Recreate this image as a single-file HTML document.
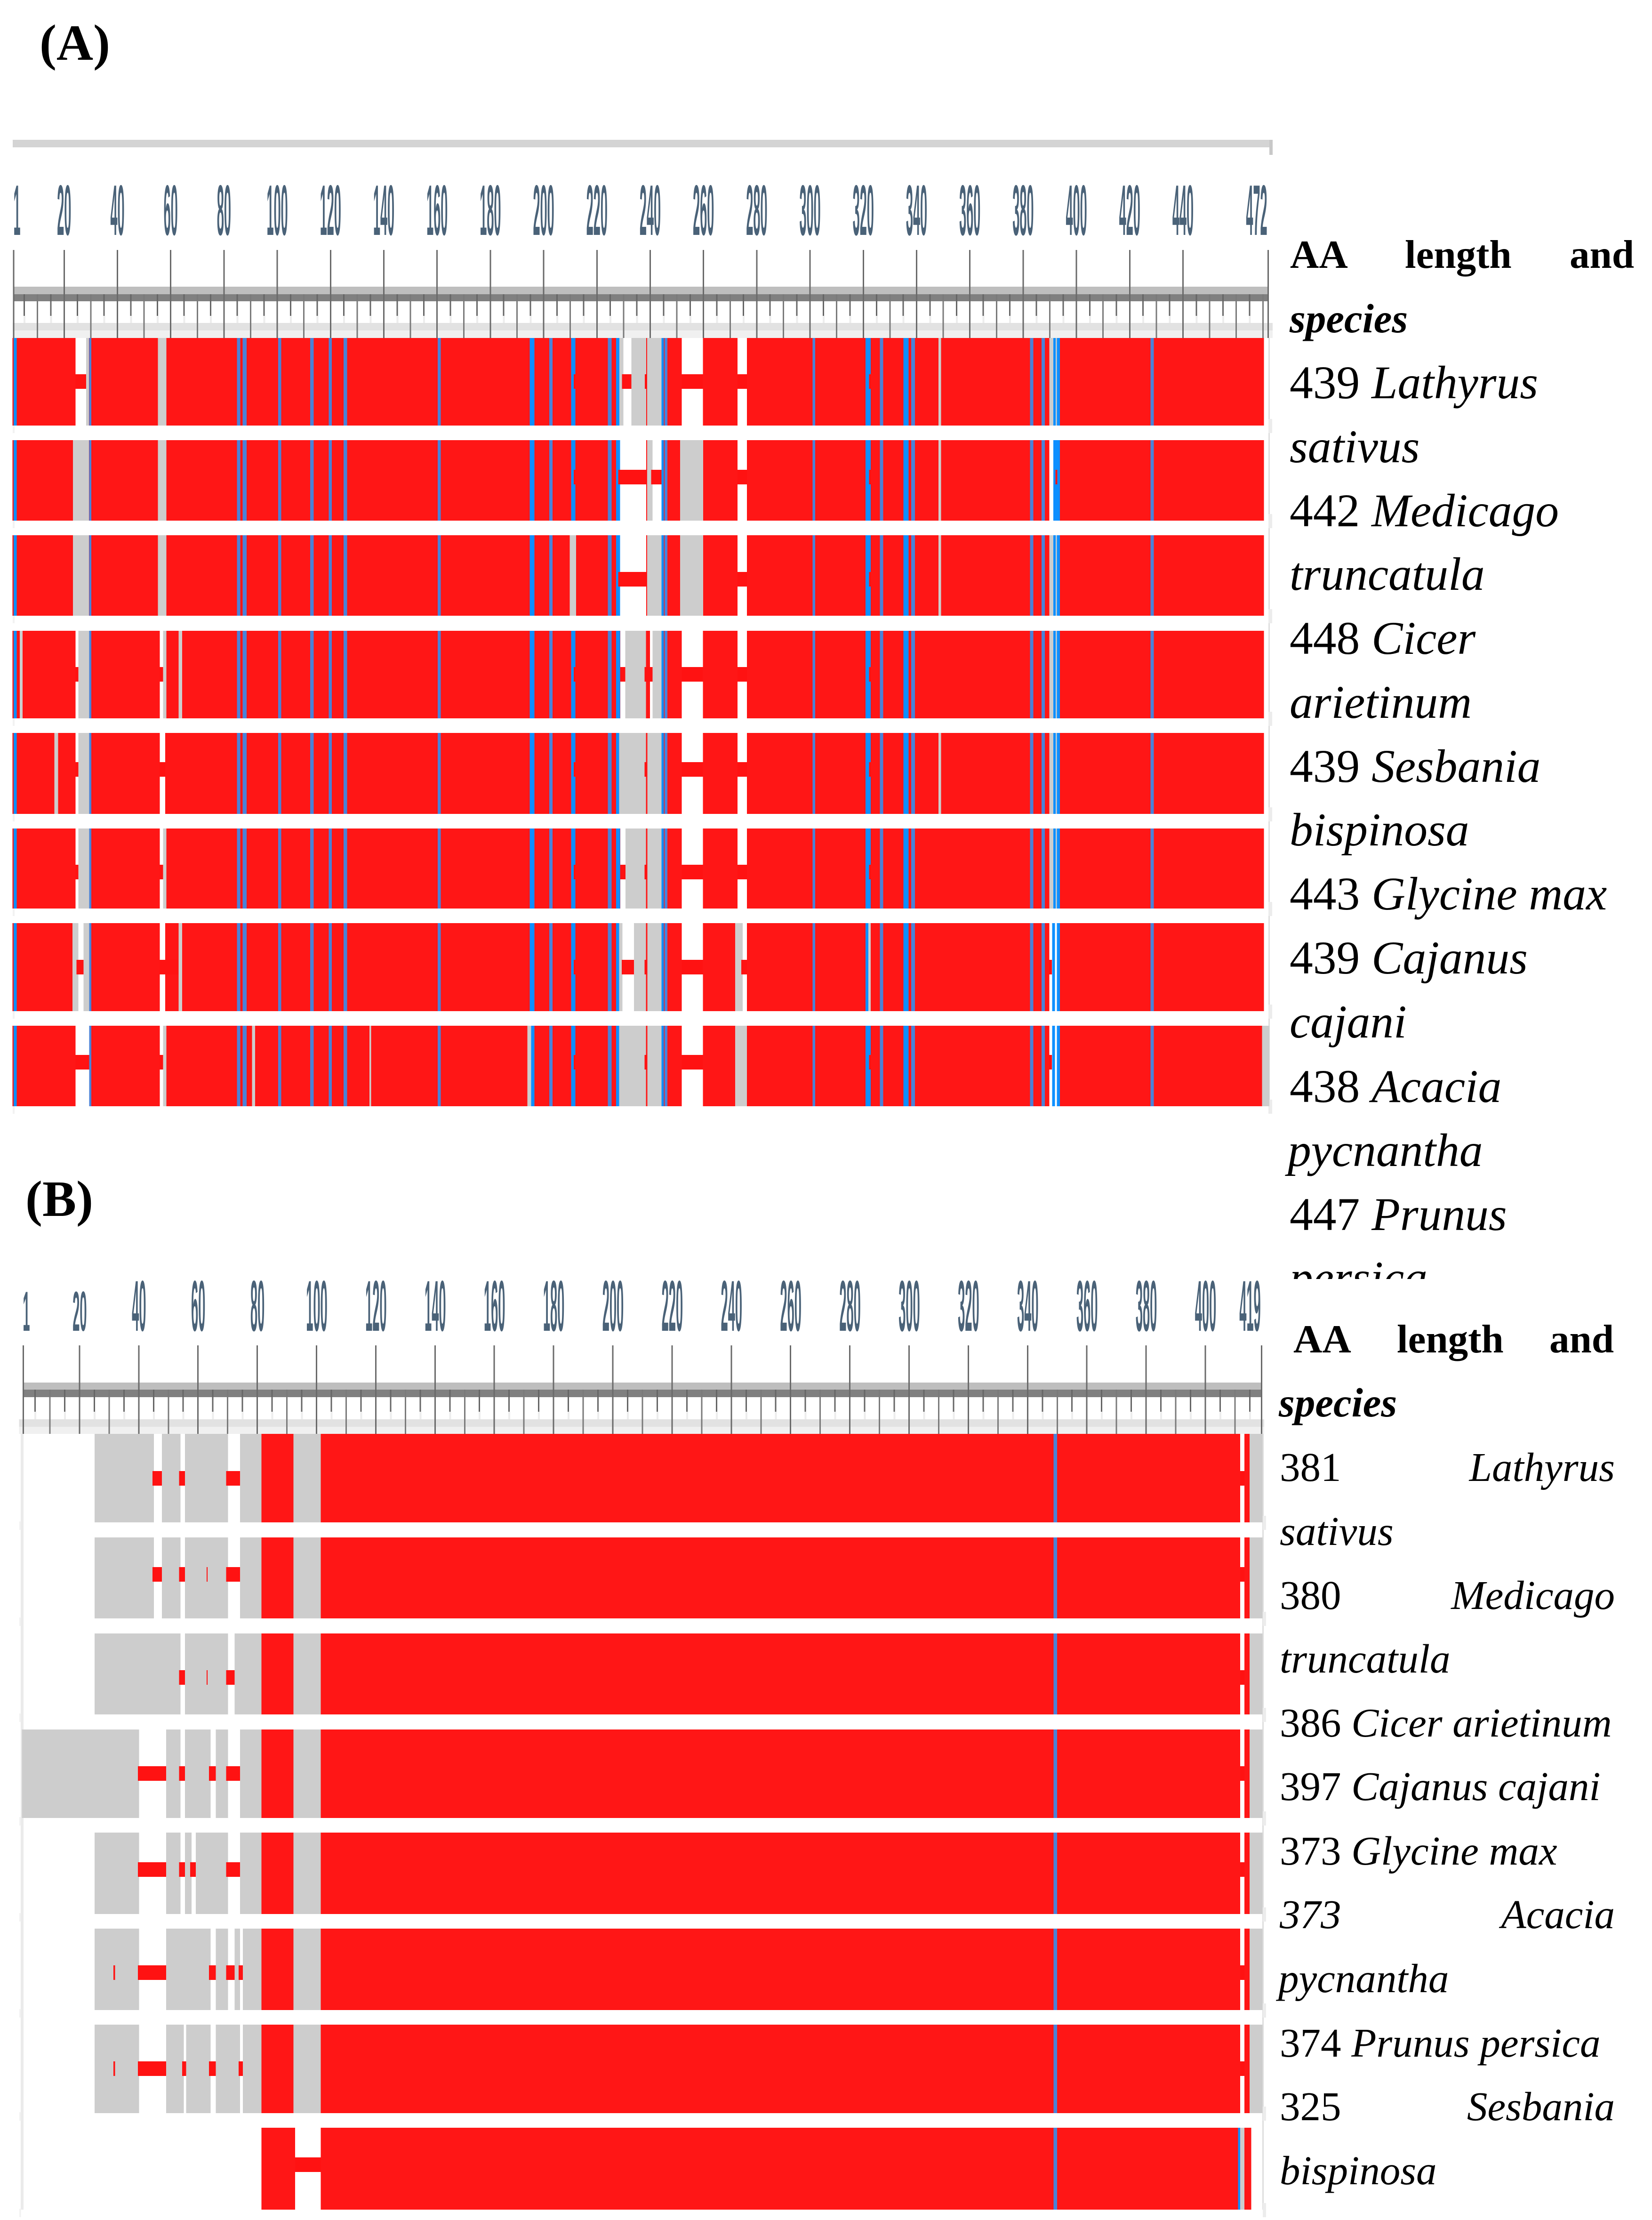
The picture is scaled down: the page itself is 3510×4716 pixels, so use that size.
<!DOCTYPE html>
<html lang="en">
<head>
<meta charset="utf-8">
<title>Protein alignment panels A and B</title>
<style>
html,body{margin:0;padding:0;background:#fff}
svg{display:block}
text{font-family:"Liberation Serif",serif;fill:#000}
.b{font-weight:bold;font-size:85px}
.bi{font-weight:bold;font-style:italic;font-size:87px}
.a{font-size:99.5px}
.s{font-size:87px}
i,.i{font-style:italic}
</style>
</head>
<body>
<svg id="fig" xmlns="http://www.w3.org/2000/svg" width="3510" height="4716" viewBox="0 0 3510 4716">
<defs><clipPath id="colA"><rect x="2700" y="500" width="810" height="2217"/></clipPath></defs>
<rect x="0" y="0" width="3510" height="4716" fill="#fff"/>
<g id="plotA"></g>
<g id="plotB"></g>

<text x="84" y="127" font-size="108" font-weight="bold">(A)</text>
<text x="54" y="2583" font-size="108" font-weight="bold">(B)</text>

<g clip-path="url(#colA)">
<text class="b" x="2741" y="569">AA</text>
<text class="b" x="2985" y="569">length</text>
<text class="b" x="3335" y="569">and</text>
<text class="bi" x="2740" y="706">species</text>
<text class="a" x="2740" y="846">439 <tspan class="i">Lathyrus</tspan></text>
<text class="a i" x="2740" y="982">sativus</text>
<text class="a" x="2740" y="1118">442 <tspan class="i">Medicago</tspan></text>
<text class="a i" x="2740" y="1253">truncatula</text>
<text class="a" x="2740" y="1389">448 <tspan class="i">Cicer</tspan></text>
<text class="a i" x="2740" y="1525">arietinum</text>
<text class="a" x="2740" y="1661">439 <tspan class="i">Sesbania</tspan></text>
<text class="a i" x="2740" y="1796">bispinosa</text>
<text class="a" x="2740" y="1932">443 <tspan class="i">Glycine max</tspan></text>
<text class="a" x="2740" y="2068">439 <tspan class="i">Cajanus</tspan></text>
<text class="a i" x="2740" y="2204">cajani</text>
<text class="a" x="2740" y="2341">438 <tspan class="i">Acacia</tspan></text>
<text class="a i" x="2736" y="2477">pycnantha</text>
<text class="a" x="2740" y="2613">447 <tspan class="i">Prunus</tspan></text>
<text class="a i" x="2740" y="2748">persica</text>
</g>

<g>
<text class="b" x="2748" y="2873">AA</text>
<text class="b" x="2968" y="2873">length</text>
<text class="b" x="3292" y="2873">and</text>
<text class="bi" x="2717" y="3009">species</text>
<text class="s" x="2719" y="3146">381</text>
<text class="s i" x="3431" y="3146" text-anchor="end">Lathyrus</text>
<text class="s i" x="2719" y="3282">sativus</text>
<text class="s" x="2719" y="3418">380</text>
<text class="s i" x="3431" y="3418" text-anchor="end">Medicago</text>
<text class="s i" x="2719" y="3553">truncatula</text>
<text class="s" x="2719" y="3689">386 <tspan class="i">Cicer arietinum</tspan></text>
<text class="s" x="2719" y="3824">397 <tspan class="i">Cajanus cajani</tspan></text>
<text class="s" x="2719" y="3961">373 <tspan class="i">Glycine max</tspan></text>
<text class="s i" x="2719" y="4096">373</text>
<text class="s i" x="3431" y="4096" text-anchor="end">Acacia</text>
<text class="s i" x="2716" y="4232">pycnantha</text>
<text class="s" x="2719" y="4369">374 <tspan class="i">Prunus persica</tspan></text>
<text class="s" x="2719" y="4504">325</text>
<text class="s i" x="3431" y="4504" text-anchor="end">Sesbania</text>
<text class="s i" x="2719" y="4640">bispinosa</text>
</g>
</svg>

<script>
/* ---------- Panel A: residue ranges per sequence ---------- */
const aTickLabels = [1,20,40,60,80,100,120,140,160,180,200,220,240,260,280,300,320,340,360,380,400,420,440,472];

const aRed = [
 [[0.7,24.4],[29.4,55.3],[58.5,228.5],[238.6,238.9],[244.3,251.9],[259.9,272.9],[276.4,470.5]],
 [[0.7,23.4],[29.4,55.3],[58.5,228.8],[238.6,238.9],[244.3,251.3],[260,272.9],[276.4,389.9],[392.7,470.5]],
 [[0.7,23.4],[29.4,55.3],[58.5,210.9],[212.3,228.8],[238.6,238.9],[244.3,251.3],[260,272.9],[276.4,470.5]],
 [[0.7,24.4],[29.5,56],[58.5,228.9],[238.5,240],[244.3,251.9],[259.9,272.9],[276.4,470.5]],
 [[0.7,24.4],[29.5,56],[58,228.4],[238.5,239],[244.3,251.9],[259.9,272.9],[276.4,470.5]],
 [[0.7,24.4],[29.5,56],[58.5,228.9],[238.5,239],[244.3,251.9],[259.9,272.9],[276.4,470.5]],
 [[0.7,23.2],[29.5,56],[58,228.4],[238.5,239],[244.3,251.9],[259.9,272],[276.4,389.9],[392.7,470.5]],
 [[0.7,24.4],[29.5,56],[58.5,228.4],[238.5,239],[244.3,251.9],[259.9,272],[276.4,389.9],[392.7,469.8]]
];
const aGrey = [
 [[28.3,29.4],[55.3,58.5],[228.5,230],[233,238.6],[238.9,244.3],[348.3,349.3],[389.9,392.7]],
 [[23.4,29.4],[55.3,58.5],[238.9,241],[251.3,260],[348.3,349.3]],
 [[23.4,29.4],[55.3,58.5],[209.9,212.3],[238.9,244.3],[251.3,260],[348.3,349.3],[389.9,392.7]],
 [[3.4,4.5],[25.4,29.5],[57.2,58.5],[63.1,64.4],[230.7,238.5],[241,244.3],[389.9,392.7]],
 [[16.4,17.8],[25.4,29.5],[228.4,238.5],[239,244.3],[348.3,349.3],[389.9,392.7]],
 [[25.4,29.5],[57.2,58.5],[230.8,238.5],[239,244.3],[389.9,392.7]],
 [[23.2,25.4],[27.4,29.5],[63.1,64.4],[228.4,229.7],[234,238.5],[239,244.3],[272,274.8],[322,322.9]],
 [[57.2,58.5],[90.6,91.8],[134.7,135.3],[194,195.4],[228.4,238.5],[239,244.3],[272,276.4],[469.8,472.5]]
];
const aLinks = [
 [[24.4,28.3],[211.4,212],[229.5,233],[238.1,238.9],[251.9,259.9],[272.9,276.4],[322.2,322.9]],
 [[211.4,212],[228.1,238.6],[240.4,244.3],[272.9,276.4],[322.2,322.9],[392.2,392.9]],
 [[228.1,238.6],[272.9,276.4],[322.2,322.9]],
 [[24.4,25.4],[56,57.2],[211.4,212],[228.9,230.7],[238,241],[251.9,259.9],[272.9,276.4],[322.2,322.9]],
 [[24.4,25.4],[56,58],[211.4,212],[238,239],[251.9,259.9],[272.9,276.4],[322.2,322.9]],
 [[24.4,25.4],[56,57.2],[211.4,212],[228.9,230.8],[238,239],[251.9,259.9],[272.9,276.4],[322.2,322.9]],
 [[24.7,27.4],[56,63.1],[211.4,212],[229.4,234],[238,239],[251.9,259.9],[274.3,276.4],[389.9,390.9]],
 [[24.4,29.5],[56,57.2],[211.4,212],[238,239],[251.9,259.9],[322.2,322.9],[389.9,390.9]]
];
const aExtraBlue = [
 [[391.4,392.3]],[[391.4,392.7]],[[391.4,392.3]],[[391.4,392.3]],
 [[391.4,392.3]],[[391.4,392.3]],[[391,392]],[[391,392]]
];
const aBrightBlue = [[1.1,2.3],[194.9,196.6],[210.4,212],[227.3,228.8],[244.2,245.2],[320.9,322.9],[335.1,337.1],[392.7,393.9]];
const aDimBlue = [[29.5,30.3],[85,86.2],[87.1,88.6],[100.4,101.6],[112.4,113.8],[119.4,120.6],[125,126.3],[160.3,161.5],[202.2,203.4],[224.2,225.6],[245.5,246.5],[301,302],[326.3,327.5],[338.1,339.5],[382.7,383.9],[387,388.2],[427.9,429.1]];

/* ---------- Panel B: residue ranges per sequence ---------- */
const bTickLabels = [1,20,40,60,80,100,120,140,160,180,200,220,240,260,280,300,320,340,360,380,400,419];

const bRed = [
 [[81.5,92.3],[101.5,411.85],[413.3,415]],
 [[81.5,92.3],[101.5,411.85],[413.3,415]],
 [[81.5,92.3],[101.5,411.85],[413.3,415]],
 [[81.5,92.3],[101.5,411.85],[413.3,415]],
 [[81.5,92.3],[101.5,411.85],[413.3,415]],
 [[81.5,92.3],[101.5,411.85],[413.3,415]],
 [[81.5,92.3],[101.5,411.85],[413.3,415]],
 [[81.5,92.85],[101.5,411.15],[413.3,415.6]]
];
const bGrey = [
 [[25.2,45.2],[47.9,54.2],[55.7,70.2],[74.3,81.5],[92.3,101.5],[415,419.4]],
 [[25.2,45.2],[47.9,54.2],[55.7,70.2],[74.3,81.5],[92.3,101.5],[415,419.4]],
 [[25.2,54.2],[55.7,70.2],[72.4,81.5],[92.3,101.5],[415,419.4]],
 [[0.65,40.2],[49.3,54.2],[55.7,64.3],[66.1,70.2],[74.3,81.5],[92.3,101.5],[415,419.4]],
 [[25.2,40.2],[49.3,54.2],[55.7,57.9],[59.3,70.2],[74.3,81.5],[92.3,101.5],[415,419.4]],
 [[25.2,40.2],[49.3,64.3],[66.1,70.2],[72.4,74.3],[75.2,81.5],[92.3,101.5],[415,419.4]],
 [[25.2,40.2],[49.3,55.3],[56.1,64.3],[66.1,74.3],[75.2,81.5],[92.3,101.5],[415,419.4]],
 [[411.85,413.3]]
];
const bLinks = [
 [[44.7,47.9],[53.7,55.7],[69.6,74.3],[411.85,413.3]],
 [[44.7,47.9],[53.7,55.7],[63,63.3],[69.6,74.3],[411.85,413.3]],
 [[53.7,55.7],[63,63.3],[69.6,72.4],[411.85,413.3]],
 [[39.8,49.3],[53.7,55.7],[63.8,66.1],[69.6,74.3],[411.85,413.3]],
 [[39.8,49.3],[53.7,55.7],[57.4,59.3],[69.6,74.3],[411.85,413.3]],
 [[31.55,32.05],[39.8,49.3],[63.8,66.1],[69.6,72.4],[73.8,75.2],[411.85,413.3]],
 [[31.55,32.05],[39.8,49.3],[54.75,56.1],[63.8,66.1],[73.8,75.2],[411.85,413.3]],
 [[92.85,101.5]]
];
const bDimBlue = [[348.85,350]];
const bExtraBlue = [[],[],[],[],[],[],[],[[411.15,411.85]]];

/* ---------- Axis functions ---------- */
function xA(p){ return 249 + (p - 40) * 5.66; }
function xB(p){ return 168.4 + (p - 20) * 6.295; }

/* ---------- Layout (pixels, row extents) ---------- */
const layoutA = {
  rowTops:[718,935,1137,1340,1557,1760,1961,2179],
  rowBots:[904,1106,1308,1526,1729,1930,2148,2350],
  linkTops:[795,998,1215,1417,1619,1837,2039,2241],
  linkH:31
};
const layoutB = {
  rowTops:[3046,3266,3470,3674,3893,4097,4301,4520],
  rowBots:[3234,3438,3642,3862,4066,4270,4489,4694],
  linkTops:[3125,3329,3548,3752,3956,4175,4379,4583],
  linkH:31
};

const NS = 'http://www.w3.org/2000/svg';
const RED = '#ff1616', GREY = '#cdcdcd', BRIGHT = '#0d8fff', DIM = '#4a82d8';

function rect(parent, x, y, w, h, fill){
  const el = document.createElementNS(NS, 'rect');
  el.setAttribute('x', x);
  el.setAttribute('y', y);
  el.setAttribute('width', Math.max(w, 0));
  el.setAttribute('height', h);
  el.setAttribute('fill', fill);
  el.setAttribute('shape-rendering', 'crispEdges');
  parent.appendChild(el);
  return el;
}

function group(parent, name){
  const g = document.createElementNS(NS, 'g');
  
  
  parent.appendChild(g);
  return g;
}

function clipSpans(span, reds){
  const out = [];
  reds.forEach(function(r){
    const a = Math.max(span[0], r[0]), b = Math.min(span[1], r[1]);
    if (b > a) out.push([a, b]);
  });
  return out;
}

function drawRows(parent, prefix, x, layout, red, grey, links, extra, sharedLayers){
  red.forEach(function(spans, i){
    const top = layout.rowTops[i], bot = layout.rowBots[i], h = bot - top;
    const g = group(parent, prefix + '-sequence-row-' + (i + 1));
    spans.forEach(function(s){
      const m = rect(g, x(s[0]), top, x(s[1]) - x(s[0]), h, RED);
      
      
    });
    sharedLayers.forEach(function(layer){
      layer.spans.forEach(function(s){
        clipSpans(s, spans).forEach(function(c){
          const m = rect(g, x(c[0]), top, x(c[1]) - x(c[0]), h, layer.color);
          
          
        });
      });
    });
    grey[i].forEach(function(s){
      const m = rect(g, x(s[0]), top, x(s[1]) - x(s[0]), h, GREY);
      
      
    });
    extra[i].forEach(function(s){
      const m = rect(g, x(s[0]), top, x(s[1]) - x(s[0]), h, BRIGHT);
      
      
    });
    links[i].forEach(function(s){
      const m = rect(g, x(s[0]), layout.linkTops[i], x(s[1]) - x(s[0]), layout.linkH, '#ff1212');
      
      
    });
  });
}

function drawTickLabels(parent, prefix, x, labels, opts){
  const g = group(parent, prefix + '-tick-labels');
  labels.forEach(function(v, i){
    let cx = x(v) + opts.dx;
    if (i === 0) cx = opts.firstX;
    if (i === labels.length - 1) cx = opts.lastX;
    const short = opts.shortLabels.indexOf(v) >= 0;
    const el = document.createElementNS(NS, 'text');
    const fs = short ? opts.fontSize * opts.shortScale : opts.fontSize;
    const sx = short ? opts.sx / opts.shortScale : opts.sx;
    el.setAttribute('transform', 'translate(' + cx + ',' + opts.base + ') scale(' + sx + ',1)');
    el.setAttribute('text-anchor', 'middle');
    el.setAttribute('style', 'font-family:"Liberation Sans",sans-serif;font-weight:bold;font-size:' + fs + 'px;fill:' + opts.color);
    
    
    el.textContent = String(v);
    g.appendChild(el);
  });
}

function drawRuler(parent, prefix, x, o){
  const g = group(parent, prefix + '-ruler');
  rect(g, o.x0, o.y1, o.x1 - o.x0, o.y2 - o.y1, '#bebebe');
  rect(g, o.x0, o.y2, o.x1 - o.x0, o.y3 - o.y2, '#808080');
  rect(g, o.x0 - o.lightPad, o.y4, o.x1 - o.x0 + o.lightPad2, o.y5 - o.y4, '#e2e2e2');
  rect(g, o.x0 - o.lightPad, o.y5, o.x1 - o.x0 + o.lightPad2, o.y6 - o.y5, '#f0f0f0');
  for (let p = 5; p < o.maxP; p += 5) {
    if (o.labels.indexOf(p) >= 0) continue;
    const px = x(p);
    if (p % 10 === 0) {
      rect(g, px - 1, o.y2, 3, o.y6 - o.y2, '#7a7a7a');
    } else {
      rect(g, px - 1, o.y2, 3, o.shortEnd - o.y2, '#666');
      rect(g, px - 1, o.shortEnd, 4, o.y4 - o.shortEnd, '#ededed');
    }
  }
  o.labels.forEach(function(v){
    const t = rect(g, x(v) - 1, o.majorTop, 3, o.y6 - o.majorTop, '#6a6a6a');
    
    
  });
}

function drawEdgeMarks(parent, prefix, layout, xR, xL, w){
  const g = group(parent, prefix + '-edge-marks');
  layout.rowBots.forEach(function(b){
    rect(g, xR, b - 14, w, 30, '#ececec');
    rect(g, xL, b - 2, w / 2, 18, '#f2f2f2');
  });
}

/* ---------- Panel A ---------- */
const plotA = document.getElementById('plotA');
const barA = rect(plotA, 27, 297, 2670, 16, '#d4d4d4');


rect(plotA, 2697, 297, 7, 32, '#c8c8c8');
drawTickLabels(plotA, 'panel-a', xA, aTickLabels, {
  dx: 0.5, firstX: 36, lastX: 2670, base: 499, fontSize: 152, sx: 0.178,
  color: '#4a6278', shortLabels: [], shortScale: 1
});
drawRuler(plotA, 'panel-a', xA, {
  x0: 28, x1: 2694, y1: 609, y2: 625, y3: 640, y4: 686, y5: 702, y6: 718,
  shortEnd: 671, majorTop: 531, maxP: 472, labels: aTickLabels, lightPad: 1, lightPad2: 11
});
rect(plotA, 2695, 718, 3, 1632, '#dedede');
drawEdgeMarks(plotA, 'panel-a', layoutA, 2695, 27, 8);
drawRows(plotA, 'panel-a', xA, layoutA, aRed, aGrey, aLinks, aExtraBlue, [
  { spans: aBrightBlue, color: BRIGHT },
  { spans: aDimBlue, color: DIM }
]);

/* ---------- Panel B ---------- */
const plotB = document.getElementById('plotB');
drawTickLabels(plotB, 'panel-b', xB, bTickLabels, {
  dx: 1, firstX: 56, lastX: 2656, base: 2827, fontSize: 153, sx: 0.178,
  color: '#4a6278', shortLabels: [1, 20], shortScale: 0.78
});
drawRuler(plotB, 'panel-b', xB, {
  x0: 48.5, x1: 2680, y1: 2937, y2: 2952, y3: 2968, y4: 3015, y5: 3031, y6: 3046,
  shortEnd: 2999, majorTop: 2858, maxP: 419, labels: bTickLabels, lightPad: 8, lightPad2: 14
});
rect(plotB, 44, 3046, 6, 1648, '#ebebeb');
rect(plotB, 2682, 3046, 3, 1648, '#dedede');
drawEdgeMarks(plotB, 'panel-b', layoutB, 2683, 41, 7);
drawRows(plotB, 'panel-b', xB, layoutB, bRed, bGrey, bLinks, bExtraBlue, [
  { spans: bDimBlue, color: DIM }
]);
</script>
</body>
</html>
